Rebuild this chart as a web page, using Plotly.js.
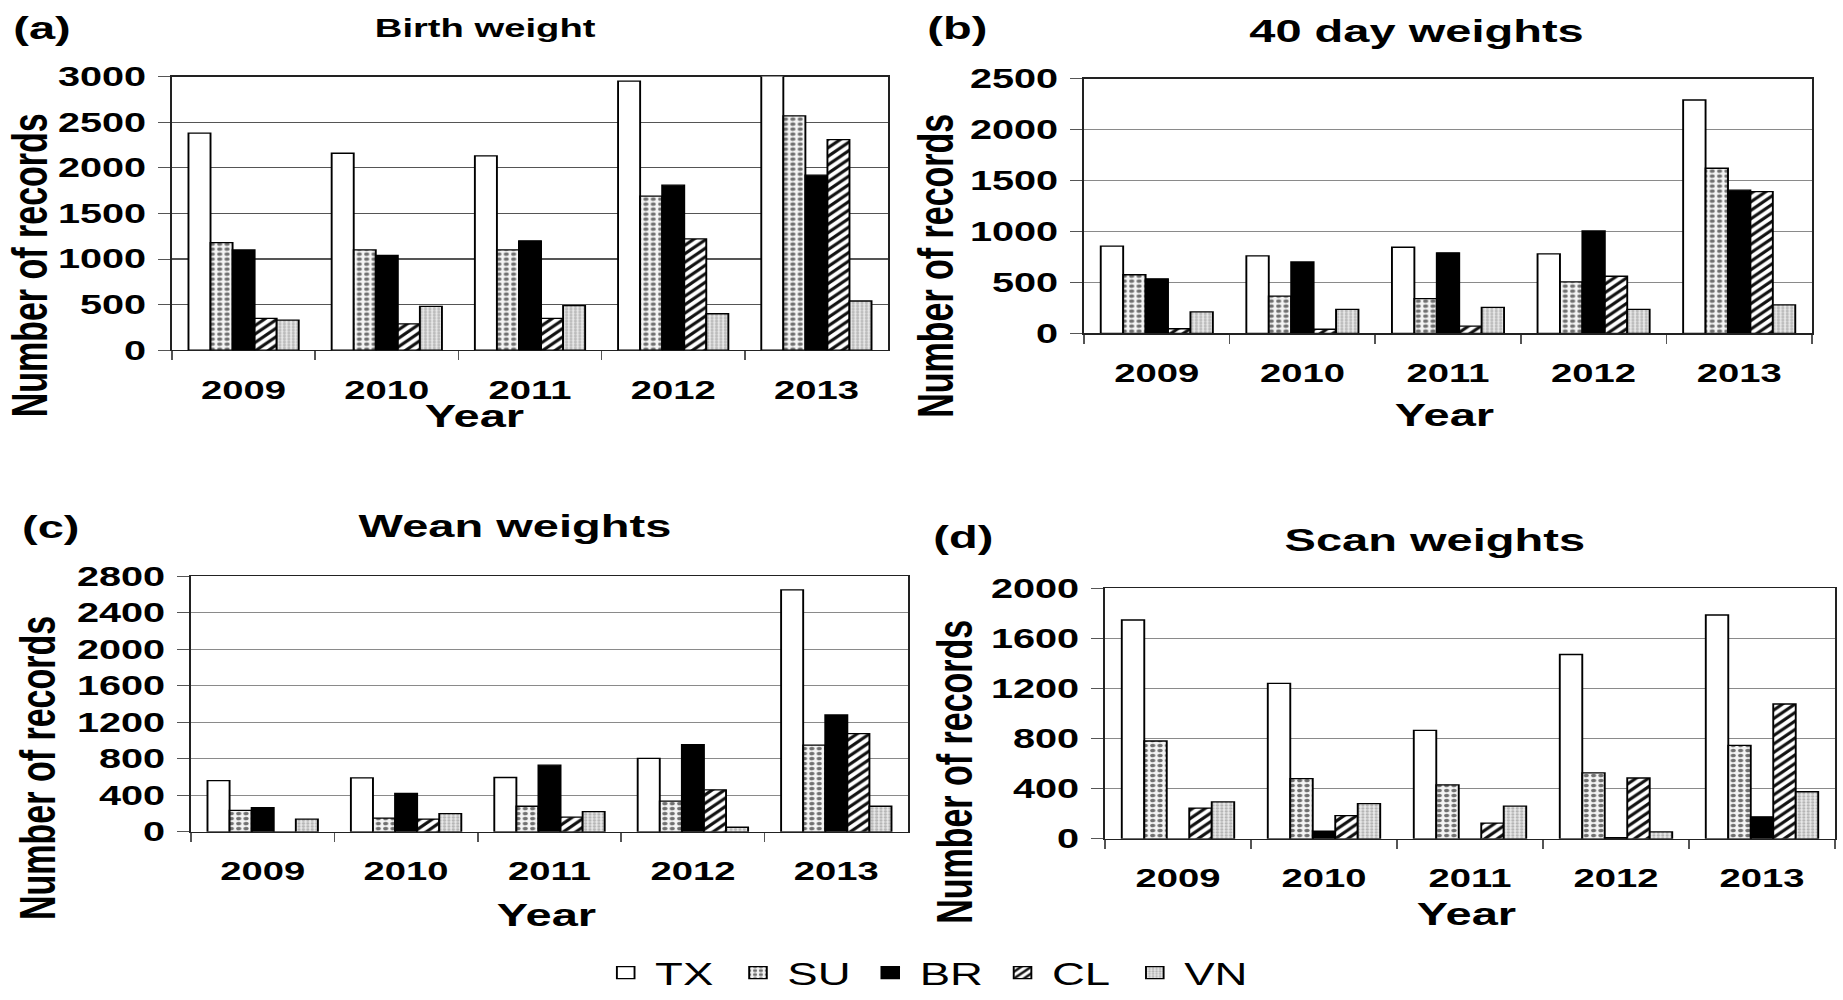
<!DOCTYPE html>
<html><head><meta charset="utf-8">
<script src="https://cdn.plot.ly/plotly-3.0.1.min.js"></script>
<style>
html,body{margin:0;padding:0;background:#fff;overflow:hidden;width:1843px;height:1000px}
#chart{width:1254px;height:1000px;transform:scaleX(1.4697);transform-origin:0 0}
</style></head><body><div id="chart"></div>
<script>
// ---------- data ----------
const years = ['2009','2010','2011','2012','2013'];
const breeds = ['TX','SU','BR','CL','VN'];

// (a) Birth weight (TX 2013 runs off the top of the axis in the original)
const birthTX = [2380,2160,2130,2950,3200];
const birthSU = [1180,1100,1100,1690,2570];
const birthBR = [1100,1040,1200,1810,1920];
const birthCL = [350,290,350,1220,2310];
const birthVN = [330,480,490,400,540];

// (b) 40 day weights
const day40TX = [855,760,845,780,2290];
const day40SU = [575,365,340,505,1620];
const day40BR = [535,700,790,1005,1405];
const day40CL = [45,40,70,560,1390];
const day40VN = [210,235,255,235,280];

// (c) Wean weights
const weanTX = [560,590,595,805,2650];
const weanSU = [235,150,280,335,950];
const weanBR = [265,420,730,955,1280];
const weanCL = [0,140,160,460,1075];
const weanVN = [140,200,220,50,280];

// (d) Scan weights
const scanTX = [1745,1240,865,1470,1785];
const scanSU = [780,480,430,525,745];
const scanBR = [0,60,0,10,175];
const scanCL = [245,185,125,485,1075];
const scanVN = [295,280,260,55,375];

const panelTitles = ['Birth weight','40 day weights','Wean weights','Scan weights'];
const panelLetters = ['(a)','(b)','(c)','(d)'];
const yTitle = 'Number of records';
const xTitle = 'Year';

const panelData = [
  [birthTX,birthSU,birthBR,birthCL,birthVN],
  [day40TX,day40SU,day40BR,day40CL,day40VN],
  [weanTX,weanSU,weanBR,weanCL,weanVN],
  [scanTX,scanSU,scanBR,scanCL,scanVN]
];

// ---------- styles ----------
const FONT = 'Liberation Sans, Arial, Helvetica, sans-serif';
const markerStyles = {
  TX: {color:'#ffffff'},
  SU: {color:'#ffffff', pattern:{shape:'.', fgcolor:'#707070', bgcolor:'#f4f4f4', size:5, solidity:0.4}},
  BR: {color:'#000000'},
  CL: {color:'#ffffff', pattern:{shape:'/', fgcolor:'#111111', bgcolor:'#ffffff', size:6, solidity:0.45}},
  VN: {color:'#e2e2e2', pattern:{shape:'.', fgcolor:'#b4b4b4', bgcolor:'#e8e8e8', size:3, solidity:0.45}}
};

const WF = 1843, HF = 1000;
const geom = [
  {x:[172,888],  y:[77,352],  ymax:3000, dtick:500},
  {x:[1084,1812],y:[79,335],  ymax:2500, dtick:500},
  {x:[191,908],  y:[579,836], ymax:2800, dtick:400},
  {x:[1105,1835],y:[591,843], ymax:2000, dtick:400}
];
const labelPos = [
  {letter:[42,28],  title:[486,28],  titleSize:26, ytitle:[29,267],  xtitle:[475,418]},
  {letter:[958,28], title:[1417,31], titleSize:32, ytitle:[935,267], xtitle:[1444,417]},
  {letter:[50,530], title:[515,529], titleSize:32, ytitle:[38,772],  xtitle:[546,920]},
  {letter:[964,540],title:[1435,543],titleSize:32, ytitle:[955,776], xtitle:[1467,919]}
];

const traces = [];
const layout = {
  width:1254, height:1000,
  margin:{l:0,r:0,t:0,b:0},
  paper_bgcolor:'#ffffff', plot_bgcolor:'#ffffff',
  barmode:'group', bargap:0.23, bargroupgap:0,
  showlegend:true,
  legend:{orientation:'h', x:927/WF, xanchor:'center', y:1-978/HF, yanchor:'middle',
          font:{family:FONT, size:31, color:'#000'}, traceorder:'normal', itemwidth:30,
          entrywidth:45, entrywidthmode:'pixels', borderwidth:0, bgcolor:'rgba(0,0,0,0)'},
  annotations:[],
  font:{family:FONT, color:'#000'}
};

panelData.forEach((series, p) => {
  const suffix = p === 0 ? '' : String(p+1);
  series.forEach((vals, k) => {
    const b = breeds[k];
    traces.push({
      type:'bar', name:b, x:years, y:vals,
      xaxis:'x'+suffix, yaxis:'y'+suffix,
      legendgroup:b, showlegend:p===0,
      marker:Object.assign({line:{color:'#000000', width:1.3}}, markerStyles[b]),
      hoverinfo:'skip'
    });
  });
  const g = geom[p];
  const layer = p === 0 ? 'below traces' : 'above traces';
  layout['xaxis'+suffix] = {
    domain:[g.x[0]/WF, g.x[1]/WF], anchor:'y'+suffix, type:'category', layer:layer,
    range:[-0.5,4.5], tickson:'boundaries', ticks:'outside', ticklen:9, tickwidth:1, tickcolor:'#555',
    showline:true, mirror:true, linecolor:'#222', linewidth:1.2, showgrid:false,
    tickfont:{family:FONT, size:26, weight:'bold', color:'#000'}, ticklabelstandoff:16, fixedrange:true
  };
  layout['yaxis'+suffix] = {
    domain:[1-g.y[1]/HF, 1-g.y[0]/HF], anchor:'x'+suffix, layer:layer,
    range:[0,g.ymax], dtick:g.dtick, tick0:0, ticks:'outside', ticklen:8, tickwidth:1, tickcolor:'#555',
    showline:true, mirror:true, linecolor:'#222', linewidth:1.2,
    showgrid:true, gridcolor: p === 0 ? '#555555' : '#8a8a8a', gridwidth:1.2, zeroline:false,
    tickfont:{family:FONT, size:27, weight:'bold', color:'#000'}, ticklabelstandoff:3, fixedrange:true
  };
  const L = labelPos[p];
  const ann = (txt, pos, size, extra) => Object.assign({
    text:txt, xref:'paper', yref:'paper', x:pos[0]/WF, y:1-pos[1]/HF,
    xanchor:'center', yanchor:'middle', showarrow:false,
    font:{family:FONT, size:size, weight:'bold', color:'#000'}
  }, extra||{});
  layout.annotations.push(ann(panelLetters[p], L.letter, 32));
  layout.annotations.push(ann(panelTitles[p], L.title, L.titleSize));
  layout.annotations.push(ann(yTitle, L.ytitle, 34, {textangle:-90}));
  layout.annotations.push(ann(xTitle, L.xtitle, 32));
});

Plotly.newPlot('chart', traces, layout, {displayModeBar:false, staticPlot:true});
</script></body></html>
